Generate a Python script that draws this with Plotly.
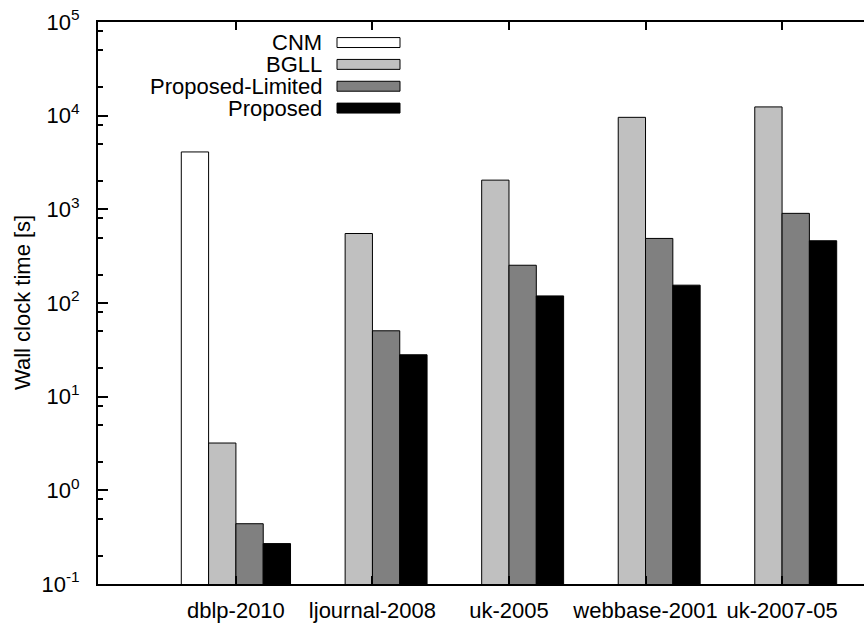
import plotly.graph_objects as go

categories = ["dblp-2010", "ljournal-2008", "uk-2005", "webbase-2001", "uk-2007-05"]
series_names = ["CNM", "BGLL", "Proposed-Limited", "Proposed"]
cnm = [4100, None, None, None, None]
bgll = [3.2, 552, 2050, 9600, 12400]
proposed_limited = [0.44, 50.5, 253, 489, 906]
proposed = [0.27, 28, 119, 155, 462]
series_values = [cnm, bgll, proposed_limited, proposed]
series_colors = ["#ffffff", "#c0c0c0", "#808080", "#000000"]

y_exponents = [-1, 0, 1, 2, 3, 4, 5]
y_tick_vals = [10 ** e for e in y_exponents]
y_tick_text = ["10<sup>%d</sup>" % e for e in y_exponents]
minor_mult = [2, 5, 8]
y_minor_vals = [m * 10 ** e for e in y_exponents[:-1] for m in minor_mult]

FONT = "Liberation Sans, Arial, Helvetica, sans-serif"
W, H = 864, 623
L, R, T, B = 98, 0, 22, 35
PW, PH = W - L - R, H - T - B

fig = go.Figure()
for name, vals, col in zip(series_names, series_values, series_colors):
    fig.add_trace(go.Bar(
        name=name, x=categories, y=vals,
        marker=dict(color=col, line=dict(color="black", width=1)),
        showlegend=False,
    ))

# manual legend (text left of swatch, gnuplot style)
def px2x(px):
    return (px - L) / PW

def py2y(py):
    return (H - B - py) / PH

for i, (name, col) in enumerate(zip(series_names, series_colors)):
    cy = 42.7 + 22 * i
    fig.add_shape(type="rect", xref="paper", yref="paper",
                  x0=px2x(337), x1=px2x(400), y0=py2y(cy + 5), y1=py2y(cy - 5),
                  fillcolor=col, line=dict(color="black", width=1))
    fig.add_annotation(xref="paper", yref="paper", x=px2x(324), y=py2y(cy),
                       text=name, showarrow=False, xanchor="right", yanchor="middle",
                       font=dict(family=FONT, size=22, color="black"))

fig.add_annotation(xref="paper", yref="paper", x=0, y=0.5, xshift=-(L - 22),
                   text="Wall clock time [s]", textangle=-90, showarrow=False,
                   xanchor="center", yanchor="middle",
                   font=dict(family=FONT, size=22, color="black"))

fig.update_layout(
    width=W, height=H,
    margin=dict(l=L, r=R, t=T, b=B, pad=0),
    paper_bgcolor="white", plot_bgcolor="white",
    barmode="group", bargap=0.2, bargroupgap=0,
    font=dict(family=FONT, size=22, color="black"),
    xaxis=dict(type="category", range=[-1.01, 4.60],
               showline=True, linewidth=2, linecolor="black", mirror="ticks",
               ticks="inside", ticklen=8, tickwidth=1.5, tickcolor="black",
               showgrid=False, zeroline=False,
               tickfont=dict(family=FONT, size=22, color="black"),
               ticklabelstandoff=6),
    yaxis=dict(type="log", range=[-1, 5],
               showline=True, linewidth=2, linecolor="black", mirror=False,
               tickmode="array", tickvals=y_tick_vals, ticktext=y_tick_text,
               ticks="inside", ticklen=10, tickwidth=1.5, tickcolor="black",
               minor=dict(tickmode="array", tickvals=y_minor_vals, ticks="inside",
                          ticklen=5, tickwidth=1.5, tickcolor="black", showgrid=False),
               showgrid=False, zeroline=False,
               tickfont=dict(family=FONT, size=22, color="black"),
               ticklabelstandoff=12),
)

fig.write_html("out.html")
